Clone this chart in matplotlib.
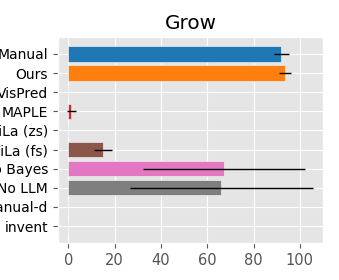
import matplotlib
matplotlib.use("Agg")
import matplotlib.pyplot as plt
import numpy as np

plt.style.use("ggplot")

# data
methods = ["Manual", "Ours", "VisPred", "MAPLE", "ViLa (zs)", "ViLa (fs)",
           "No Bayes", "No LLM", "Manual-d", "invent"]
success = [92.0, 93.5, 0.0, 1.3, 0.0, 15.0, 67.4, 66.1, 0.0, 0.0]
err = [3.3, 2.5, 0.0, 2.0, 0.0, 4.0, 35.0, 39.5, 0.0, 0.0]

tab10 = ["#1f77b4", "#ff7f0e", "#2ca02c", "#d62728", "#9467bd",
         "#8c564b", "#e377c2", "#7f7f7f", "#bcbd22", "#17becf"]

fig = plt.figure(figsize=(3.39, 2.8), dpi=100)
ax = fig.add_axes([0.171, 0.132, 0.782, 0.736])

y = np.arange(len(methods))
ax.barh(y, success, height=0.8, color=tab10, edgecolor="#EEEEEE", linewidth=0.5)
for i in range(len(methods)):
    if err[i] > 0:
        ax.errorbar(success[i], y[i], xerr=err[i], fmt="none", ecolor="black",
                    elinewidth=1.0, capsize=0)

ax.set_yticks(y)
ax.set_yticklabels(methods, color="black")
ax.invert_yaxis()
ax.set_xticks([0, 20, 40, 60, 80, 100])
ax.tick_params(axis="x", labelcolor="#555555", labelsize=10.5)
ax.tick_params(axis="y", labelsize=10)
ax.set_xlim(-4.5, 110)
ax.set_title("Grow", fontsize=14.4)

plt.savefig("out.png", dpi=100)
